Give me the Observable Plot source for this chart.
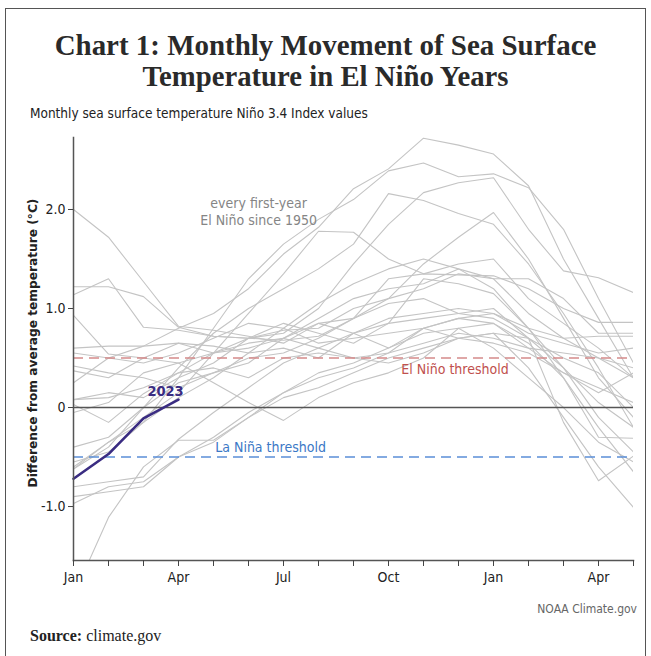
<!DOCTYPE html>
<html>
<head>
<meta charset="utf-8">
<script src="https://cdn.jsdelivr.net/npm/d3@7"></script>
<script src="https://cdn.jsdelivr.net/npm/@observablehq/plot@0.6"></script>
<style>
  html, body { margin: 0; padding: 0; background: #fff; }
  body { width: 651px; height: 656px; position: relative; overflow: hidden; }
  .narrow { font-family: "Liberation Sans Narrow", "DejaVu Sans Condensed", "Roboto Condensed", sans-serif; font-stretch: condensed; }
  #frame { position: absolute; left: 5px; top: 8px; width: 639px; height: 700px; border: 1.5px solid #555; }
  .title { position: absolute; left: 0; width: 651px; text-align: center; font-family: "Liberation Serif", "DejaVu Serif", serif; font-weight: bold; color: #2a2a2a; white-space: nowrap; }
  #sub { position: absolute; left: 30px; top: 105px; font-size: 13.5px; color: #222; }
  #chart { position: absolute; left: 0; top: 125px; }
  #ylab { position: absolute; left: 33px; top: 343px; transform: translate(-50%, -50%) rotate(-90deg); font-family: "DejaVu Sans", Verdana, sans-serif; font-weight: bold; font-size: 12.2px; color: #222; white-space: nowrap; }
  #credit { position: absolute; right: 14px; top: 602px; font-size: 12px; color: #666; }
  #source { position: absolute; left: 30px; top: 627px; font-family: "Liberation Serif", "DejaVu Serif", serif; font-size: 16px; color: #222; }
</style>
</head>
<body>
<div id="frame"></div>
<div class="title" id="t1">Chart 1: Monthly Movement of Sea Surface</div>
<div class="title" id="t2">Temperature in El Niño Years</div>
<div id="sub" class="narrow">Monthly sea surface temperature Niño 3.4 Index values</div>
<div id="chart"></div>
<div id="ylab">Difference from average temperature (°C)</div>
<div id="credit" class="narrow">NOAA Climate.gov</div>
<div id="source"><b>Source:</b> climate.gov</div>
<script>
// Month index 0 = Jan of El Niño year ... 16 = May of following year
const monthTicks = [0,1,2,3,4,5,6,7,8,9,10,11,12,13,14,15,16];
const monthLabels = ["Jan", "Apr", "Jul", "Oct", "Jan", "Apr"];
const yTicks = [-1, 0, 1, 2];

// Grey lines: every first-year El Niño since 1950
const g01 = [0.55, 0.5, 0.62, 0.8, 0.95, 1.2, 1.55, 1.82, 2.21, 2.41, 2.72, 2.65, 2.56, 2.24, 1.5, 0.9, 0.3];
const g02 = [-0.55, -0.45, -0.15, 0.3, 0.8, 1.3, 1.65, 1.9, 2.1, 2.39, 2.47, 2.33, 2.36, 2.22, 1.8, 1.1, 0.45];
const g03 = [0.08, 0.1, 0.2, 0.35, 0.55, 0.7, 0.75, 1.0, 1.45, 1.85, 2.17, 2.27, 2.32, 1.8, 1.38, 1.31, 1.16];
const g04 = [-0.62, -0.4, 0.0, 0.4, 0.75, 1.0, 1.2, 1.4, 1.65, 2.16, 2.09, 1.96, 1.85, 1.45, 0.95, 0.4, -0.2];
const g05 = [-0.6, -0.35, -0.1, 0.15, 0.55, 0.95, 1.35, 1.78, 1.77, 1.5, 1.35, 1.45, 1.5, 1.1, 0.85, 0.6, 0.3];
const g06 = [2.0, 1.72, 1.27, 0.82, 0.78, 0.72, 0.65, 0.85, 0.75, 0.6, 0.8, 0.7, 0.65, 0.55, 0.35, 0.2, 0.05];
const g07 = [1.22, 1.22, 1.12, 0.81, 0.72, 0.7, 0.78, 0.8, 1.0, 1.1, 1.2, 1.35, 1.3, 0.95, 0.7, 0.5, 0.3];
const g08 = [1.14, 1.3, 0.81, 0.78, 0.72, 0.7, 0.68, 0.72, 0.9, 1.3, 1.35, 1.34, 1.33, 1.2, 1.0, 0.86, 0.86];
const g09 = [0.93, 0.54, 0.5, 0.45, 0.55, 0.6, 0.7, 0.9, 1.1, 1.2, 1.25, 1.4, 1.3, 1.3, 1.1, 0.75, 0.75];
const g10 = [0.6, 0.62, 0.62, 0.65, 0.62, 0.55, 0.6, 0.5, 0.75, 0.9, 0.95, 1.0, 0.95, 0.8, 0.7, 0.72, 0.72];
const g11 = [0.42, 0.35, 0.3, 0.2, 0.35, 0.45, 0.7, 0.85, 0.9, 1.05, 1.1, 0.95, 0.9, 0.7, 0.5, 0.35, 0.0];
const g12 = [0.37, 0.3, 0.5, 0.65, 0.55, 0.65, 0.7, 0.6, 0.5, 0.55, 0.65, 0.75, 0.7, 0.6, 0.55, 0.5, 0.4];
const g13 = [0.08, 0.15, 0.1, 0.3, 0.45, 0.7, 0.85, 0.75, 0.65, 0.85, 1.3, 1.25, 1.15, 0.8, 0.4, -0.1, -0.45];
const g14 = [0.03, -0.15, 0.14, 0.35, 0.4, 0.3, 0.5, 0.55, 0.5, 0.45, 0.55, 0.7, 0.75, 0.7, 0.4, 0.05, -0.2];
const g15 = [-0.05, 0.05, 0.35, 0.45, 0.25, 0.05, -0.13, 0.1, 0.25, 0.35, 0.5, 0.8, 0.85, 0.6, 0.35, 0.15, 0.35];
const g16 = [-0.62, -0.35, -0.15, 0.1, 0.3, 0.55, 0.8, 1.05, 1.25, 1.4, 1.5, 1.4, 1.2, 0.8, 0.3, -0.2, -0.65];
const g17 = [-0.8, -0.75, -0.7, -0.32, -0.05, 0.2, 0.45, 0.6, 0.75, 0.85, 0.9, 0.95, 1.0, 0.7, -0.15, -0.74, -0.49];
const g18 = [-0.9, -0.85, -0.8, -0.5, -0.3, -0.05, 0.15, 0.3, 0.4, 0.55, 0.8, 0.9, 0.85, 0.65, 0.3, -0.3, -0.31];
const g19 = [-0.97, -0.8, -0.75, -0.5, -0.35, -0.1, 0.1, 0.2, 0.35, 0.5, 0.6, 0.7, 0.75, 0.4, -0.1, -0.6, -1.01];
const g20 = [-1.9, -1.11, -0.6, -0.33, -0.33, -0.1, 0.15, 0.35, 0.45, 0.6, 0.75, 0.8, 0.6, 0.3, 0.0, -0.35, -0.55];
const g21 = [0.25, 0.5, 0.45, 0.55, 0.7, 0.85, 0.8, 0.65, 0.7, 0.75, 0.8, 0.9, 0.95, 0.75, 0.65, 0.55, 0.6];
const g22 = [-0.4, -0.3, 0.0, 0.25, 0.35, 0.5, 0.55, 0.7, 0.9, 1.1, 1.45, 1.72, 1.97, 1.5, 0.9, 0.3, -0.1];

// 2023 (Jan–Apr)
const y2023 = [-0.72, -0.47, -0.11, 0.08];

// Threshold levels
const elNinoThreshold = 0.5;
const laNinaThreshold = -0.5;

const greySeries = [g01,g02,g03,g04,g05,g06,g07,g08,g09,g10,g11,g12,g13,g14,g15,g16,g17,g18,g19,g20,g21,g22];
const greyRows = greySeries.flatMap((arr, i) => arr.map((v, m) => ({ id: "s" + i, m, v })));
const rows2023 = y2023.map((v, m) => ({ m, v }));

// fit title lines to widths in reference
function fit(id, targetW, top) {
  const el = document.getElementById(id);
  const c = document.createElement("canvas").getContext("2d");
  c.font = 'bold 100px "Liberation Serif", "DejaVu Serif", serif';
  const w = c.measureText(el.textContent).width;
  const fs = 100 * targetW / w;
  el.style.fontSize = fs + "px";
  el.style.top = top + "px";
  el.style.lineHeight = "1";
}

const narrow = '"Liberation Sans Narrow", "DejaVu Sans Condensed", "Roboto Condensed", sans-serif';

const plot = Plot.plot({
  width: 651,
  height: 475,
  marginLeft: 73,
  marginRight: 18,
  marginTop: 12,
  marginBottom: 40,
  style: { fontFamily: narrow, fontSize: "14px", color: "#222", background: "transparent" },
  x: { domain: [0, 16] },
  y: { domain: [-1.545, 2.727] },
  marks: [
    Plot.line(greyRows, { x: "m", y: "v", z: "id", stroke: "#c4c4c4", strokeWidth: 1.1, clip: true }),
    Plot.ruleY([elNinoThreshold], { stroke: "#d58a8a", strokeWidth: 1.4, strokeDasharray: "10,6" }),
    Plot.ruleY([laNinaThreshold], { stroke: "#5b8fd8", strokeWidth: 1.4, strokeDasharray: "10,6" }),
    Plot.ruleY([0], { stroke: "#555", strokeWidth: 1.5 }),
    Plot.line(rows2023, { x: "m", y: "v", stroke: "#3a2c82", strokeWidth: 2.6 }),
    Plot.text(["2023"], { x: 2.63, y: 0.16, text: d => d, fill: "#3a2c82", fontWeight: "bold", fontSize: 14.5 }),
    Plot.text(["every first-year\nEl Niño since 1950"], { x: 5.29, y: 1.98, text: d => d, fill: "#858585", fontSize: 14, lineHeight: 1.2 }),
    Plot.text(["El Niño threshold"], { x: 10.9, y: 0.385, text: d => d, fill: "#c0504d", fontSize: 14 }),
    Plot.text(["La Niña threshold"], { x: 5.63, y: -0.4, text: d => d, fill: "#3b78c6", fontSize: 14 }),
    Plot.frame({ anchor: "left", stroke: "#555", strokeWidth: 1.5 }),
    Plot.frame({ anchor: "bottom", stroke: "#555", strokeWidth: 1.5 }),
    Plot.axisY({ ticks: yTicks, tickFormat: d => d === 0 ? "0" : d.toFixed(1), tickSize: 5, tickPadding: 3, label: null, fontSize: 14, stroke: "#444" }),
    Plot.axisX({ ticks: monthTicks, tickFormat: m => m % 3 === 0 ? monthLabels[m / 3] : "", tickSize: 6, tickPadding: 6, label: null, fontSize: 14, stroke: "#444" })
  ]
});
document.getElementById("chart").appendChild(plot);
fit("t1", 542, 31);
fit("t2", 367, 62);
</script>
</body>
</html>
